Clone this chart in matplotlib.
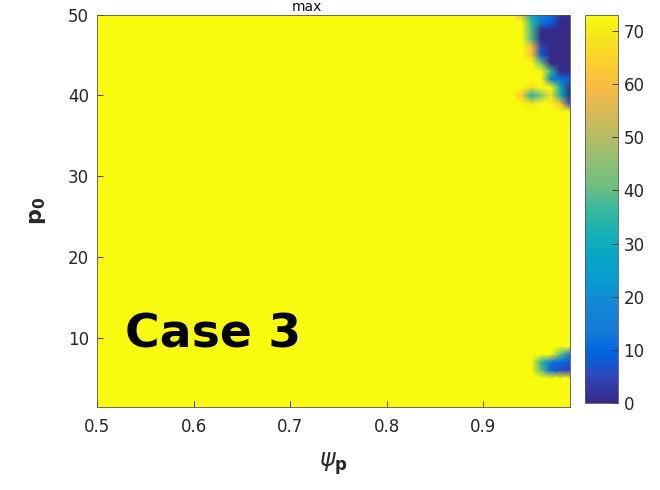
import numpy as np
import matplotlib
matplotlib.use("Agg")
import matplotlib.pyplot as plt
from matplotlib.colors import LinearSegmentedColormap

# Grid of the parameter sweep
psi_p = np.round(np.linspace(0.50, 0.99, 50), 2)
p_0 = np.arange(1, 51)
plateau = 73.0

# Columns near psi_p = 1 where the response drops
edge_psi = [0.93, 0.94, 0.95, 0.96, 0.97, 0.98, 0.99]

# Upper-right pocket (p_0 = 39 ... 50)
upper_rows = [50, 49, 48, 47, 46, 45, 44, 43, 42, 41, 40, 39]
upper_vals = [
    [73, 55, 28, 15, 12, 2, 0],
    [73, 73, 35, 12, 8, 0, 0],
    [73, 73, 38, 0, 0, 0, 0],
    [73, 73, 38, 0, 0, 0, 0],
    [73, 73, 60, 5, 0, 0, 0],
    [73, 73, 62, 8, 0, 0, 0],
    [73, 73, 73, 40, 0, 0, 0],
    [73, 73, 73, 73, 36, 0, 0],
    [73, 73, 73, 73, 15, 12, 8],
    [73, 73, 66, 73, 73, 30, 0],
    [73, 62, 32, 45, 68, 30, 0],
    [73, 73, 68, 73, 73, 60, 5],
]

# Lower-right pocket (p_0 = 6 ... 8)
lower_rows = [8, 7, 6]
lower_vals = [
    [73, 73, 73, 73, 73, 40, 15],
    [73, 73, 73, 35, 12, 10, 8],
    [73, 73, 73, 40, 10, 5, 5],
]

cbar_ticks = [0, 10, 20, 30, 40, 50, 60, 70]
x_ticks = [0.5, 0.6, 0.7, 0.8, 0.9]
y_ticks = [10, 20, 30, 40, 50]

# Assemble the field
Z = np.full((len(p_0), len(psi_p)), plateau)
cols = [int(np.argmin(np.abs(psi_p - v))) for v in edge_psi]
for rows, vals in ((upper_rows, upper_vals), (lower_rows, lower_vals)):
    for r, rv in zip(rows, vals):
        ri = int(np.where(p_0 == r)[0][0])
        Z[ri, cols] = rv

# Parula-like colormap
parula_pts = [
    (0.2081, 0.1663, 0.5292),
    (0.1959, 0.2645, 0.7279),
    (0.0117, 0.3875, 0.8820),
    (0.0722, 0.4887, 0.8467),
    (0.0793, 0.5200, 0.8312),
    (0.0265, 0.6137, 0.8135),
    (0.0228, 0.6535, 0.7768),
    (0.0843, 0.6928, 0.7062),
    (0.2178, 0.7250, 0.6193),
    (0.4420, 0.7481, 0.5033),
    (0.5709, 0.7485, 0.4494),
    (0.7184, 0.7411, 0.3905),
    (0.8507, 0.7299, 0.3360),
    (0.9739, 0.7314, 0.2666),
    (0.9880, 0.8066, 0.1794),
    (0.9589, 0.8949, 0.1132),
    (0.9763, 0.9831, 0.0538),
]
parula = LinearSegmentedColormap.from_list("parula", parula_pts, N=256)

txt = "#262626"
plt.rcParams["font.family"] = ["DejaVu Sans"]
plt.rcParams["mathtext.fontset"] = "dejavusans"

fig = plt.figure(figsize=(6.6, 4.9), dpi=100)
ax = fig.add_axes([0.1474, 0.1694, 0.7162, 0.801])
X, Y = np.meshgrid(psi_p, p_0)
mesh = ax.pcolormesh(X, Y, Z, cmap=parula, vmin=0, vmax=73, shading="gouraud")
ax.set_xlim(0.5, 0.99)
ax.set_ylim(1.45, 50)
ax.set_xticks(x_ticks)
ax.set_xticklabels([f"{v:.1f}" for v in x_ticks])
ax.set_yticks(y_ticks)
ax.tick_params(direction="in", length=4, width=0.6, colors=txt, labelsize=12)
ax.tick_params(axis="x", pad=8)
ax.tick_params(axis="y", pad=6)
for s in ax.spines.values():
    s.set_color("#555555")
    s.set_linewidth(0.6)

ax.set_xlabel(r"$\psi_{\mathbf{p}}$", fontsize=17, color=txt, labelpad=10)
ax.set_ylabel(r"$\mathbf{p}_{\mathbf{0}}$", fontsize=16, color=txt, labelpad=14)

ax.text(0.529, 8.8, "Case 3", fontsize=34, fontweight="bold", color="black",
        va="baseline", ha="left")

fig.text(307 / 660, 0.999, "max", ha="center", va="top",
         fontsize=10, color="#111111")

cax = fig.add_axes([0.8864, 0.1776, 0.05, 0.7918])
cb = fig.colorbar(mesh, cax=cax, ticks=cbar_ticks)
cb.outline.set_edgecolor("#555555")
cb.outline.set_linewidth(0.6)
cax.tick_params(direction="in", length=4, width=0.6, colors=txt, labelsize=12, pad=4)

fig.savefig("out.png", dpi=100)
